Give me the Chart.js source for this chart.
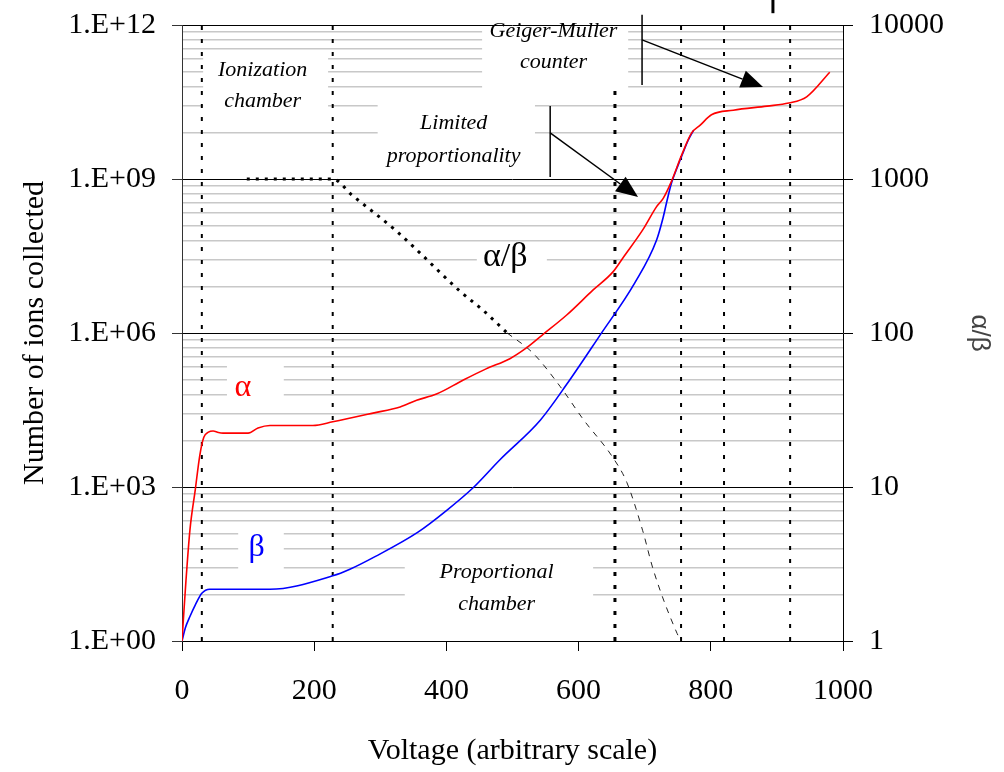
<!DOCTYPE html>
<html>
<head>
<meta charset="utf-8">
<script src="https://cdn.jsdelivr.net/npm/chart.js@4.4.1/dist/chart.umd.min.js"></script>
<style>
  html, body { margin: 0; padding: 0; background: #fff; }
  #wrap { width: 1004px; height: 772px; }
</style>
</head>
<body>
<div id="wrap"><canvas id="ions" width="1004" height="772"></canvas></div>
<script>
// alpha particles: voltage vs number of ions collected
const alphaVolt = [0, 2, 6, 12, 20, 27, 33, 40, 47, 55, 62, 100, 115, 133, 198, 228, 289, 330, 355, 385, 425, 460, 496, 520, 545, 582, 622, 652, 667, 697, 718, 728, 740, 756, 771, 784, 801, 834, 885, 918, 945, 980];
const alphaIons = [1, 2.5, 15, 145, 870, 4200, 9300, 11700, 12300, 11500, 11200, 11200, 14100, 15800, 15800, 18600, 27500, 36300, 49000, 64600, 120000, 200000, 316000, 500000, 912000, 2.24e6, 6.9e6, 1.55e7, 2.9e7, 1.02e8, 2.9e8, 4.2e8, 8.7e8, 2.95e9, 7.9e9, 1.12e10, 1.78e10, 2.19e10, 2.63e10, 3.02e10, 3.98e10, 1.2e11];

// beta particles
const betaVolt = [0, 5, 12, 20, 30, 42, 133, 228, 254, 292, 357, 401, 440, 481, 542, 582, 632, 685, 718, 728, 734, 741, 750, 756, 766, 774];
const betaIons = [1, 1.8, 3, 5, 8.5, 10.2, 10.2, 18.6, 25, 44, 132, 355, 955, 3400, 20000, 100000, 891000, 9.5e6, 6.5e7, 1.8e8, 3.9e8, 8.7e8, 1.78e9, 2.8e9, 5.75e9, 8.9e9];

// alpha/beta ratio (right axis)
const ratioHiVolt = [98, 228, 257, 325, 355, 421, 455, 492];
const ratioHiVal = [1000, 1000, 787, 457, 347, 186, 141, 100];
const ratioLoVolt = [492, 531, 572, 607, 652, 673, 697, 713, 749, 755];
const ratioLoVal = [100, 74, 45, 27.5, 15.5, 10.7, 5.2, 2.9, 1.12, 1];

// region boundaries (voltage) and how high each dotted line reaches
const boundVolt = [30, 228, 655, 755, 820, 920];
const boundTop = [1e12, 1e12, 5.9e10, 1e12, 1e12, 1e12];

// axis ticks and labels
const voltTicks = [0, 200, 400, 600, 800, 1000];
const voltLabels = ['0', '200', '400', '600', '800', '1000'];
const ionTicks = [1, 1e3, 1e6, 1e9, 1e12];
const ionLabels = ['1.E+00', '1.E+03', '1.E+06', '1.E+09', '1.E+12'];
const ratioMajor = [1, 10, 100, 1000, 10000];
const ratioLabels = ['1', '10', '100', '1000', '10000'];
const minorSteps = [1, 2, 3, 4, 5, 6, 7, 8, 9];

const ratioTicks = [];
ratioMajor.slice(0, 4).forEach(d => minorSteps.forEach(m => ratioTicks.push(d * m)));
ratioTicks.push(10000);

const serif = "'Liberation Serif', 'Times New Roman', serif";

function pts(xs, ys) {
  return xs.map((x, i) => ({ x: x, y: ys[i] }));
}

// annotation layout, in data units (voltage, log10 of ions)
const whiteBoxes = [
  { x0: 32, x1: 221, e0: 11.47, e1: 10.15 },
  { x0: 454, x1: 675, e0: 11.95, e1: 10.77 },
  { x0: 296, x1: 534, e0: 10.64, e1: 9.05 },
  { x0: 68, x1: 154, e0: 5.47, e1: 4.69 },
  { x0: 85, x1: 154, e0: 2.26, e1: 1.29 },
  { x0: 337, x1: 622, e0: 1.58, e1: 0.21 },
  { x0: 446, x1: 552, e0: 7.71, e1: 7.13 }
];
const notes = [
  { text: 'Ionization', x: 122, e: 11.12, italic: true },
  { text: 'chamber', x: 122, e: 10.52, italic: true },
  { text: 'Limited', x: 411, e: 10.09, italic: true },
  { text: 'proportionality', x: 411, e: 9.45, italic: true },
  { text: 'Geiger-Muller', x: 562, e: 11.88, italic: true },
  { text: 'counter', x: 562, e: 11.28, italic: true },
  { text: 'Proportional', x: 476, e: 1.34, italic: true },
  { text: 'chamber', x: 476, e: 0.72, italic: true },
  { text: 'α', x: 92, e: 4.93, color: '#ff0000', size: 32 },
  { text: 'β', x: 113, e: 1.81, color: '#0000ff', size: 32 },
  { text: 'α/β', x: 489, e: 7.48, size: 34 }
];
const pointers = [
  { bx: 557, b0: 10.42, b1: 9.04, fx: 557, fe: 9.9, tx: 690, te: 8.65 },
  { bx: 696, b0: 12.2, b1: 10.83, fx: 696, fe: 11.71, tx: 879, te: 10.79 }
];
const stubs = [{ bx: 894, b0: 12.5, b1: 12.23 }];

const regionNotes = {
  id: 'regionNotes',
  beforeDatasetsDraw(chart) {
    const { ctx, scales: { x, y } } = chart;
    ctx.save();
    ctx.fillStyle = '#fff';
    whiteBoxes.forEach(b => {
      const x0 = x.getPixelForValue(b.x0), x1 = x.getPixelForValue(b.x1);
      const y0 = y.getPixelForValue(10 ** b.e0), y1 = y.getPixelForValue(10 ** b.e1);
      ctx.fillRect(x0, y0, x1 - x0, y1 - y0);
    });
    ctx.restore();
  },
  afterDatasetsDraw(chart) {
    const { ctx, scales: { x, y } } = chart;
    const py = e => y.getPixelForValue(10 ** e);
    ctx.save();
    ctx.textAlign = 'center';
    ctx.textBaseline = 'middle';
    notes.forEach(n => {
      ctx.fillStyle = n.color || '#000';
      ctx.font = (n.italic ? 'italic ' : '') + (n.size || 22) + 'px ' + serif;
      ctx.fillText(n.text, x.getPixelForValue(n.x), py(n.e));
    });

    ctx.strokeStyle = '#000';
    ctx.fillStyle = '#000';
    ctx.lineWidth = 1.5;
    pointers.forEach(p => {
      const bx = x.getPixelForValue(p.bx);
      ctx.beginPath();
      ctx.moveTo(bx, py(p.b0));
      ctx.lineTo(bx, py(p.b1));
      ctx.stroke();
      const fx = x.getPixelForValue(p.fx), fy = py(p.fe);
      const tx = x.getPixelForValue(p.tx), ty = py(p.te);
      const len = Math.hypot(tx - fx, ty - fy);
      const ux = (tx - fx) / len, uy = (ty - fy) / len;
      const headLen = 22, headHalf = 9;
      const baseX = tx - ux * headLen, baseY = ty - uy * headLen;
      ctx.beginPath();
      ctx.moveTo(fx, fy);
      ctx.lineTo(baseX, baseY);
      ctx.stroke();
      ctx.beginPath();
      ctx.moveTo(tx, ty);
      ctx.lineTo(baseX - uy * headHalf, baseY + ux * headHalf);
      ctx.lineTo(baseX + uy * headHalf, baseY - ux * headHalf);
      ctx.closePath();
      ctx.fill();
    });
    ctx.lineWidth = 3;
    stubs.forEach(s => {
      const bx = x.getPixelForValue(s.bx);
      ctx.beginPath();
      ctx.moveTo(bx, py(s.b0));
      ctx.lineTo(bx, py(s.b1));
      ctx.stroke();
    });
    ctx.restore();
  }
};

const curveDefaults = { pointRadius: 0, fill: false, cubicInterpolationMode: 'monotone' };

const datasets = [
  Object.assign({ label: 'alpha', data: pts(alphaVolt, alphaIons), borderColor: '#ff0000', borderWidth: 1.6, yAxisID: 'y' }, curveDefaults),
  Object.assign({ label: 'beta', data: pts(betaVolt, betaIons), borderColor: '#0000ff', borderWidth: 1.6, yAxisID: 'y' }, curveDefaults),
  Object.assign({ label: 'ratio', data: pts(ratioHiVolt, ratioHiVal), borderColor: '#000', borderWidth: 3, borderDash: [3, 6], yAxisID: 'y2' }, curveDefaults),
  Object.assign({ label: 'ratio2', data: pts(ratioLoVolt, ratioLoVal), borderColor: '#222', borderWidth: 1, borderDash: [6, 6], yAxisID: 'y2' }, curveDefaults)
];
boundVolt.forEach((v, i) => {
  datasets.push({
    label: 'bound' + i,
    data: [{ x: v, y: 1 }, { x: v, y: boundTop[i] }],
    borderColor: '#000',
    borderWidth: i === 2 ? 3 : 2,
    borderDash: [4, 9],
    pointRadius: 0,
    tension: 0,
    yAxisID: 'y'
  });
});

function noVPad(s, w) {
  s.width = w;
  s.paddingTop = 0;
  s.paddingBottom = 0;
}

new Chart(document.getElementById('ions'), {
  type: 'line',
  data: { datasets: datasets },
  options: {
    responsive: false,
    animation: false,
    devicePixelRatio: 1,
    layout: { padding: { top: 25, left: 0, right: 0, bottom: 0 } },
    plugins: { legend: { display: false }, tooltip: { enabled: false } },
    scales: {
      x: {
        type: 'linear',
        min: 0,
        max: 1000,
        afterBuildTicks(s) { s.ticks = voltTicks.map(v => ({ value: v })); },
        afterFit(s) { s.height = 131; s.paddingLeft = 0; s.paddingRight = 0; },
        ticks: {
          callback: (v, i) => voltLabels[i],
          color: '#000',
          font: { family: serif, size: 30 },
          padding: 22,
          maxRotation: 0
        },
        grid: { drawOnChartArea: false, tickLength: 10, tickColor: '#000' },
        border: { color: '#000' },
        title: {
          display: true,
          text: 'Voltage (arbitrary scale)',
          color: '#000',
          font: { family: serif, size: 30 },
          padding: { top: 0, bottom: 3 }
        }
      },
      y: {
        type: 'logarithmic',
        position: 'left',
        min: 1,
        max: 1e12,
        afterBuildTicks(s) { s.ticks = ionTicks.map(v => ({ value: v })); },
        afterFit(s) { noVPad(s, 182); },
        ticks: {
          callback: (v, i) => ionLabels[i],
          color: '#000',
          font: { family: serif, size: 30 },
          padding: 16,
          autoSkip: false
        },
        grid: { drawOnChartArea: false, tickLength: 10, tickColor: '#333' },
        border: { color: '#333' },
        title: {
          display: true,
          text: 'Number of ions collected',
          color: '#000',
          font: { family: serif, size: 30 },
          padding: { top: 17, bottom: 0 }
        }
      },
      y2: {
        type: 'logarithmic',
        position: 'right',
        min: 1,
        max: 10000,
        afterBuildTicks(s) { s.ticks = ratioTicks.map(v => ({ value: v })); },
        afterFit(s) { noVPad(s, 161); },
        ticks: {
          callback: v => {
            const k = ratioMajor.indexOf(v);
            return k >= 0 ? ratioLabels[k] : '';
          },
          color: '#000',
          font: { family: serif, size: 30 },
          padding: 16,
          autoSkip: false
        },
        grid: {
          color: c => ratioMajor.includes(c.tick.value) ? '#000' : '#c8c8c8',
          lineWidth: c => ratioMajor.includes(c.tick.value) ? 1 : 1.5,
          tickColor: c => ratioMajor.includes(c.tick.value) ? '#000' : 'rgba(0,0,0,0)',
          tickLength: 10
        },
        border: { color: '#000' },
        title: {
          display: true,
          text: 'α/β',
          color: '#444',
          font: { family: "'Liberation Sans', Arial, sans-serif", size: 26 },
          padding: { top: 9, bottom: 0 }
        }
      }
    }
  },
  plugins: [regionNotes]
});
</script>
</body>
</html>
